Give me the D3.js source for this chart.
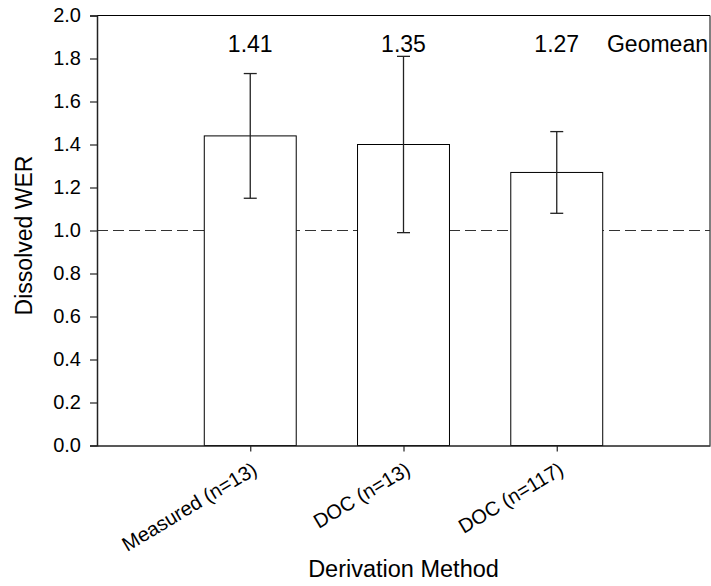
<!DOCTYPE html>
<html>
<head>
<meta charset="utf-8">
<script src="https://cdn.jsdelivr.net/npm/d3@7"></script>
<style>
  body { margin: 0; background: #fff; }
  svg { display: block; font-family: Arial, "Liberation Sans", sans-serif; }
</style>
</head>
<body>
<svg width="711" height="586"></svg>
<script>
// values
const categories = ['Measured (n=13)', 'DOC (n=13)', 'DOC (n=117)'];
const means = [1.44, 1.40, 1.27];
const upper = [1.73, 1.81, 1.46];
const lower = [1.15, 0.99, 1.08];
const geomeans = ['1.41', '1.35', '1.27'];
const yTicks = [0, 0.2, 0.4, 0.6, 0.8, 1.0, 1.2, 1.4, 1.6, 1.8, 2.0];

const svg = d3.select('svg');
const margin = { top: 15.5, right: 1, bottom: 140.5, left: 97 };
const width = 711 - margin.left - margin.right;
const height = 586 - margin.top - margin.bottom;

const g = svg.append('g')
  .attr('transform', `translate(${margin.left},${margin.top})`);

// categories sit at 1, 2, 3 on a 0..4 axis
const x = d3.scaleLinear().domain([0, 4]).range([0, width]);
const y = d3.scaleLinear().domain([0, 2]).range([height, 0]);
const barHalf = 0.3;

// frame (top + right)
g.append('path')
  .attr('d', `M0,0H${width}V${height}`)
  .attr('fill', 'none')
  .attr('stroke', '#000')
  .attr('stroke-width', 1);

// reference line at 1.0
g.append('line')
  .attr('x1', 0)
  .attr('x2', width)
  .attr('y1', y(1))
  .attr('y2', y(1))
  .attr('stroke', '#333')
  .attr('stroke-width', 1.2)
  .attr('stroke-dasharray', '11,5');

// bars
g.selectAll('rect.bar')
  .data(means)
  .enter()
  .append('rect')
  .attr('class', 'bar')
  .attr('x', (d, i) => x(i + 1 - barHalf))
  .attr('width', x(1 + barHalf) - x(1 - barHalf))
  .attr('y', d => y(d))
  .attr('height', d => y(0) - y(d))
  .attr('fill', '#fff')
  .attr('stroke', '#000');

// error bars
const errG = g.selectAll('g.err')
  .data(means)
  .enter()
  .append('g')
  .attr('class', 'err')
  .attr('stroke', '#222')
  .attr('stroke-width', 1.3);
errG.append('line')
  .attr('x1', (d, i) => x(i + 1))
  .attr('x2', (d, i) => x(i + 1))
  .attr('y1', (d, i) => y(upper[i]))
  .attr('y2', (d, i) => y(lower[i]));
errG.append('line')
  .attr('x1', (d, i) => x(i + 1) - 6.5)
  .attr('x2', (d, i) => x(i + 1) + 6.5)
  .attr('y1', (d, i) => y(upper[i]))
  .attr('y2', (d, i) => y(upper[i]));
errG.append('line')
  .attr('x1', (d, i) => x(i + 1) - 6.5)
  .attr('x2', (d, i) => x(i + 1) + 6.5)
  .attr('y1', (d, i) => y(lower[i]))
  .attr('y2', (d, i) => y(lower[i]));

// y axis
const yAxis = g.append('g')
  .call(d3.axisLeft(y).tickValues(yTicks).tickFormat(d3.format('.1f')).tickSize(7).tickPadding(9));
yAxis.select('.domain').attr('stroke', '#222').attr('stroke-width', 1.5);
yAxis.selectAll('.tick line').attr('stroke', '#222').attr('stroke-width', 1.2);
yAxis.selectAll('text')
  .attr('font-size', 20)
  .attr('fill', '#000')
  .attr('font-family', 'Arial, "Liberation Sans", sans-serif');

// x axis
const xAxis = g.append('g')
  .attr('transform', `translate(0,${height})`)
  .call(d3.axisBottom(x).tickValues([1, 2, 3]).tickFormat(d => categories[d - 1]).tickSize(6).tickSizeOuter(0));
xAxis.select('.domain').attr('stroke', '#222').attr('stroke-width', 1.5);
xAxis.selectAll('.tick line').attr('stroke', '#222').attr('stroke-width', 1.2);
xAxis.selectAll('text')
  .attr('font-size', 20)
  .attr('fill', '#000')
  .attr('font-family', 'Arial, "Liberation Sans", sans-serif')
  .attr('text-anchor', 'end')
  .attr('dy', 0)
  .attr('transform', 'translate(3,20) rotate(-31)');

// geomean labels
g.selectAll('text.gm')
  .data(geomeans)
  .enter()
  .append('text')
  .attr('class', 'gm')
  .attr('x', (d, i) => x(i + 1))
  .attr('y', 36.5)
  .attr('text-anchor', 'middle')
  .attr('font-size', 23)
  .text(d => d);
g.append('text')
  .attr('x', width - 2)
  .attr('y', 36.5)
  .attr('text-anchor', 'end')
  .attr('font-size', 23)
  .text('Geomean');

// axis titles
svg.append('text')
  .attr('transform', `translate(32,${margin.top + height / 2 + 5}) rotate(-90)`)
  .attr('text-anchor', 'middle')
  .attr('font-size', 23)
  .text('Dissolved WER');
svg.append('text')
  .attr('x', margin.left + width / 2)
  .attr('y', 577)
  .attr('text-anchor', 'middle')
  .attr('font-size', 23.5)
  .text('Derivation Method');
</script>
</body>
</html>
